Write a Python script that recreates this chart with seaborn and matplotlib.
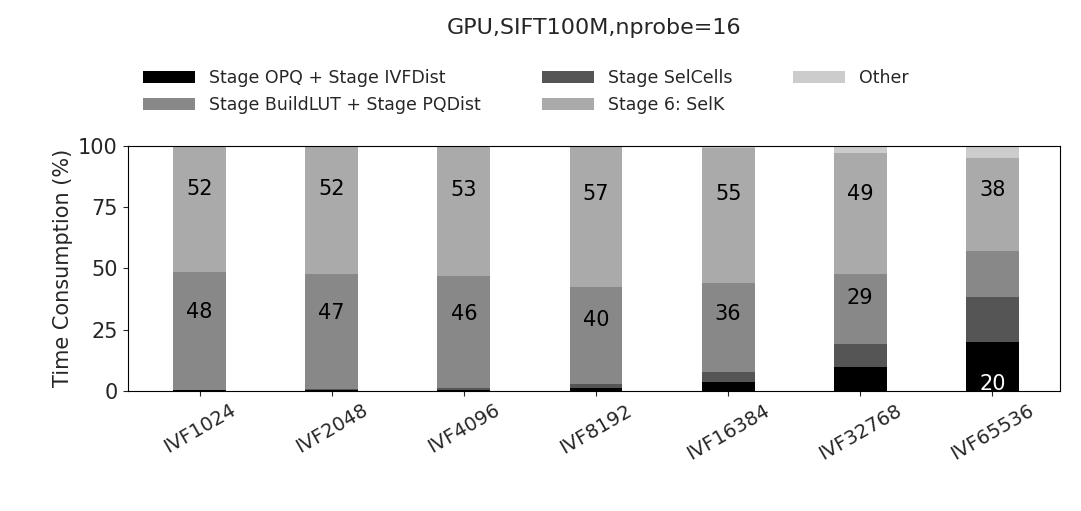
import matplotlib
matplotlib.use("Agg")
import matplotlib.pyplot as plt
import seaborn as sns
import numpy as np

sns.set_style("ticks")
plt.rcParams['font.family'] = ['DejaVu Sans']

categories = ["IVF1024", "IVF2048", "IVF4096", "IVF8192", "IVF16384", "IVF32768", "IVF65536"]
opq_ivfdist = [0.2, 0.2, 0.4, 1.2, 3.5, 9.6, 19.8]
selcells = [0.3, 0.4, 0.8, 1.5, 4.1, 9.4, 18.3]
buildlut_pqdist = [48.0, 47.0, 45.6, 39.6, 36.2, 28.6, 19.0]
selk = [51.5, 52.4, 53.2, 57.4, 55.2, 49.4, 37.8]
other = [100 - a - b - c - d for a, b, c, d in zip(opq_ivfdist, selcells, buildlut_pqdist, selk)]

names = ["Stage OPQ + Stage IVFDist", "Stage SelCells", "Stage BuildLUT + Stage PQDist",
         "Stage 6: SelK", "Other"]
values = [opq_ivfdist, selcells, buildlut_pqdist, selk, other]
colors = ["#000000", "#555555", "#888888", "#aaaaaa", "#cccccc"]

fig = plt.figure(figsize=(10.81, 5.11), dpi=100)
ax = fig.add_axes([0.118, 0.235, 0.863, 0.48])
x = np.arange(len(categories))
bottom = np.zeros(len(categories))
handles = {}
for name, vals, col in zip(names, values, colors):
    vals = np.array(vals)
    h = ax.bar(x, vals, 0.4, bottom=bottom, color=col, label=name, linewidth=0)
    handles[name] = h
    for i, v in enumerate(vals):
        if round(v) >= 20:
            if col == "#000000":
                ax.text(x[i], bottom[i] + 3, f"{round(v)}", ha="center", va="center",
                        color="white", fontsize=15)
            else:
                ax.text(x[i], bottom[i] + v * 0.66, f"{round(v)}", ha="center", va="center",
                        color="black", fontsize=15)
    bottom += vals

ax.set_ylim(0, 100)
ax.set_xlim(-0.545, 6.515)
ax.set_yticks([0, 25, 50, 75, 100])
ax.set_xticks(x)
ax.set_xticklabels(categories, rotation=30, fontsize=14)
ax.tick_params(axis="y", labelsize=15)
ax.set_ylabel("Time Consumption (%)", fontsize=15)
for s in ax.spines.values():
    s.set_visible(True)
    s.set_color("black")

order = ["Stage OPQ + Stage IVFDist", "Stage BuildLUT + Stage PQDist", "Stage SelCells",
         "Stage 6: SelK", "Other"]
fig.legend([handles[n] for n in order], order, ncol=3, frameon=False, fontsize=12.5,
           loc="upper left", bbox_to_anchor=(0.118, 0.895), columnspacing=3.5,
           handlelength=3)
fig.suptitle("GPU,SIFT100M,nprobe=16", fontsize=16, x=0.55, y=0.965)
fig.savefig("out.png", dpi=100)
